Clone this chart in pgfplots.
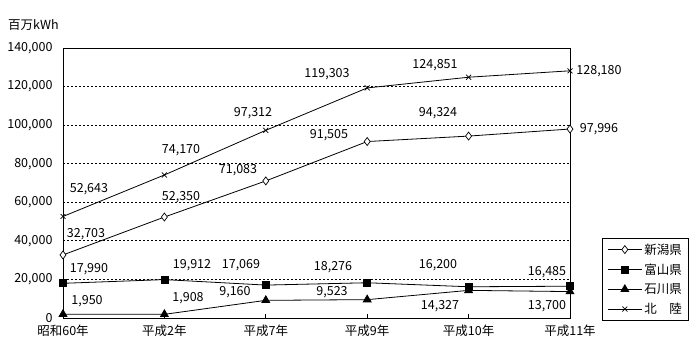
\documentclass[border=0pt]{standalone}
\usepackage{fontspec}
\setmainfont{Noto Sans CJK JP}
\usepackage{pgfplots}
\pgfplotsset{compat=1.18}
\newcommand{\lbl}{\fontsize{12.5}{14}\selectfont}
\begin{document}
\begin{tikzpicture}[font=\lbl]
\useasboundingbox (0,0) rectangle (700pt,360pt);
\node[anchor=west,inner sep=0pt] at (8pt,335pt) {百万kWh};
\begin{axis}[
  at={(63pt,42pt)}, anchor=south west, scale only axis,
  width=507pt, height=270pt,
  xmin=0, xmax=5, ymin=0, ymax=140000,
  xtick={0,...,5},
  xticklabels={昭和60年,平成2年,平成7年,平成9年,平成10年,平成11年},
  ytick={0,20000,...,140000},
  scaled y ticks=false,
  /pgf/number format/assume math mode=true,
  /pgf/number format/1000 sep={,},
  /pgf/number format/fixed,
  tick label style={font=\lbl},
  yticklabel style={xshift=-7pt},
  xticklabel style={yshift=-3pt},
  tick align=inside, tick pos=left, major tick length=4pt,
  y tick style={draw=none},
  x tick style={black, line width=0.8pt},
  ymajorgrids,
  grid style={black, line width=0.8pt, dash pattern=on 2pt off 2pt},
  axis line style={line width=1pt},
  clip=false,
  legend image code/.code={\draw[mark repeat=2,mark phase=2,#1] plot coordinates {(0pt,0pt) (17pt,0pt) (34pt,0pt)};},
  legend style={at={(rel axis cs:1.063,0.296)}, anchor=north west, draw=black, line width=1pt,
    font=\lbl, inner xsep=5pt, inner ysep=3pt, row sep=4pt, cells={anchor=west}},
]
\addplot[black, line width=0.8pt, mark=diamond*, mark size=4pt, mark options={fill=white, solid, line width=0.7pt}]
  coordinates {(0,32703)(1,52350)(2,71083)(3,91505)(4,94324)(5,97996)};
\addlegendentry{新潟県}
\addplot[black, line width=0.8pt, mark=square*, mark size=3.5pt, mark options={fill=black, solid}]
  coordinates {(0,17990)(1,19912)(2,17069)(3,18276)(4,16200)(5,16485)};
\addlegendentry{富山県}
\addplot[black, line width=0.8pt, mark=triangle*, mark size=4.5pt, mark options={fill=black, solid}]
  coordinates {(0,1950)(1,1908)(2,9160)(3,9523)(4,14327)(5,13700)};
\addlegendentry{石川県}
\addplot[black, line width=0.8pt, mark=x, mark size=3.5pt, mark options={solid, line width=0.7pt}]
  coordinates {(0,52643)(1,74170)(2,97312)(3,119303)(4,124851)(5,128180)};
\addlegendentry{北　陸}
% data labels
\node at (axis cs:0.256,66890) {52,643};
\node at (axis cs:1.164,87110) {74,170};
\node at (axis cs:1.874,106300) {97,312};
\node at (axis cs:2.604,126500) {119,303};
\node at (axis cs:3.669,131200) {124,851};
\node at (axis cs:5.286,128070) {128,180};
\node at (axis cs:0.227,43550) {32,703};
\node at (axis cs:1.164,62740) {52,350};
\node at (axis cs:1.726,76740) {71,083};
\node at (axis cs:2.623,94890) {91,505};
\node at (axis cs:3.698,106300) {94,324};
\node at (axis cs:5.286,98000) {97,996};
\node at (axis cs:0.256,25410) {17,990};
\node at (axis cs:1.272,27480) {19,912};
\node at (axis cs:1.755,27480) {17,069};
\node at (axis cs:2.663,26440) {18,276};
\node at (axis cs:3.698,27480) {16,200};
\node at (axis cs:4.773,23850) {16,485};
\node at (axis cs:0.237,8815) {1,950};
\node at (axis cs:1.233,10370) {1,908};
\node at (axis cs:1.696,13480) {9,160};
\node at (axis cs:2.653,13480) {9,523};
\node at (axis cs:3.718,6222) {14,327};
\node at (axis cs:4.773,6222) {13,700};
\end{axis}
\end{tikzpicture}
\end{document}
